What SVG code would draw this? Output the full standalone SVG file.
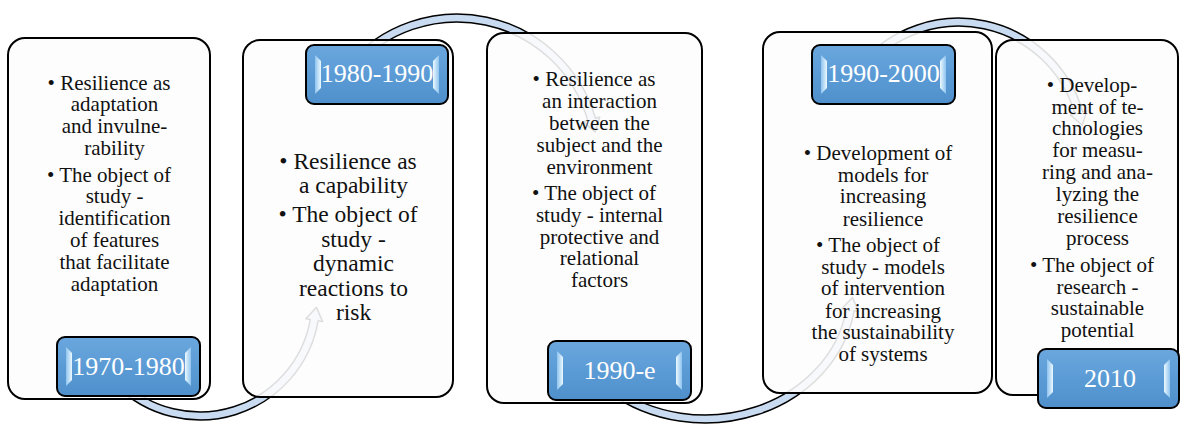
<svg xmlns="http://www.w3.org/2000/svg" width="1181" height="425" viewBox="0 0 1181 425">
<defs>
<linearGradient id="lg" x1="0" y1="0" x2="0" y2="1">
<stop offset="0" stop-color="#6ba7de"/>
<stop offset="0.5" stop-color="#5b9bd5"/>
<stop offset="1" stop-color="#4f90cc"/>
</linearGradient>
<linearGradient id="bevL" x1="0" y1="0" x2="1" y2="0">
<stop offset="0" stop-color="#8fc4ee"/>
<stop offset="1" stop-color="#ecf9ff"/>
</linearGradient>
<linearGradient id="bevR" x1="1" y1="0" x2="0" y2="0">
<stop offset="0" stop-color="#8fc4ee"/>
<stop offset="1" stop-color="#ecf9ff"/>
</linearGradient>
<style>
.box{fill:#fdfdfd;fill-opacity:0.88;stroke:#000;stroke-width:2}
.lbl{fill:url(#lg);stroke:#000;stroke-width:2}
.bl{fill:url(#bevL)}
.br{fill:url(#bevR)}
.lt{font-family:"Liberation Serif",serif;font-size:26px;fill:#fff;text-anchor:middle}
.t{font-family:"Liberation Serif",serif;font-size:21px;fill:#111;text-anchor:middle}
.t2{font-size:23.5px}
.arc{fill:#c8dbf0;stroke:#000;stroke-width:1.5;stroke-linejoin:round}
</style>
</defs>
<rect width="1181" height="425" fill="#fff"/>
<g id="connectors">
<path class="arc" d="M 115.15 384.85 A 120 120 0 0 0 318.18 320.84 L 322.61 321.62 L 316.50 307.34 L 305.87 318.67 L 310.30 319.45 A 112 112 0 0 1 120.80 379.20 Z"/>
<path class="arc" d="M 346.7 65.43 A 144 144 0 0 1 595.43 118.31 L 599.75 117.07 L 595.16 131.92 L 583.41 121.76 L 587.74 120.52 A 136 136 0 0 0 352.82 70.58 Z"/>
<path class="arc" d="M 607.94 391.88 A 151 133 0 0 0 854.14 310.80 L 858.59 311.51 L 852.50 297.39 L 841.79 308.85 L 846.24 309.55 A 143 125 0 0 1 613.08 385.75 Z"/>
<path class="arc" d="M 859.79 64.28 A 129 129 0 0 1 1082.61 111.65 L 1086.93 110.41 L 1082.34 125.25 L 1070.59 115.09 L 1074.92 113.85 A 121 121 0 0 0 865.91 69.42 Z"/>
</g>
<g id="node1">
<rect class="box" x="8" y="38" width="202" height="361" rx="17"/>
<text class="t" x="109" y="89.5">• Resilience as</text>
<text class="t" x="114.5" y="111.3">adaptation</text>
<text class="t" x="114.5" y="133.1">and invulne-</text>
<text class="t" x="114.5" y="154.9">rability</text>
<text class="t" x="109" y="181.5">• The object of</text>
<text class="t" x="114.5" y="203.3">study -</text>
<text class="t" x="114.5" y="225.1">identification</text>
<text class="t" x="114.5" y="246.9">of features</text>
<text class="t" x="114.5" y="268.7">that facilitate</text>
<text class="t" x="114.5" y="290.5">adaptation</text>
<rect class="lbl" x="57" y="337" width="143" height="59" rx="8"/>
<polygon class="bl" points="66,347 72,353 72,380 66,386"/>
<polygon class="br" points="191,347 185,353 185,380 191,386"/>
<text class="lt" x="128.5" y="375">1970-1980</text>
</g>
<g id="node2">
<rect class="box" x="243" y="40" width="210" height="357" rx="17"/>
<text class="t t2" x="348" y="169">• Resilience as</text>
<text class="t t2" x="353.5" y="193">a capability</text>
<text class="t t2" x="348" y="222">• The object of</text>
<text class="t t2" x="353.5" y="246.5">study -</text>
<text class="t t2" x="353.5" y="271">dynamic</text>
<text class="t t2" x="353.5" y="295.5">reactions to</text>
<text class="t t2" x="353.5" y="320">risk</text>
<rect class="lbl" x="306" y="45" width="142" height="59" rx="8"/>
<polygon class="bl" points="315,55 321,61 321,88 315,94"/>
<polygon class="br" points="439,55 433,61 433,88 439,94"/>
<text class="lt" x="377" y="82">1980-1990</text>
</g>
<g id="node3">
<rect class="box" x="487" y="33" width="215" height="370" rx="17"/>
<text class="t" x="594" y="86">• Resilience as</text>
<text class="t" x="599.5" y="108">an interaction</text>
<text class="t" x="599.5" y="130">between the</text>
<text class="t" x="599.5" y="151.7">subject and the</text>
<text class="t" x="599.5" y="173.5">environment</text>
<text class="t" x="594" y="200">• The object of</text>
<text class="t" x="599.5" y="221.7">study - internal</text>
<text class="t" x="599.5" y="243.5">protective and</text>
<text class="t" x="599.5" y="265.3">relational</text>
<text class="t" x="599.5" y="287">factors</text>
<rect class="lbl" x="548" y="341" width="143" height="59" rx="8"/>
<polygon class="bl" points="557,351 563,357 563,384 557,390"/>
<polygon class="br" points="682,351 676,357 676,384 682,390"/>
<text class="lt" x="619.5" y="379">1990-e</text>
</g>
<g id="node4">
<rect class="box" x="763" y="32" width="229" height="361" rx="17"/>
<text class="t" x="878" y="159.5">• Development of</text>
<text class="t" x="883" y="181.5">models for</text>
<text class="t" x="883" y="203.3">increasing</text>
<text class="t" x="883" y="225.5">resilience</text>
<text class="t" x="878" y="251.7">• The object of</text>
<text class="t" x="883" y="273.5">study - models</text>
<text class="t" x="883" y="295.3">of intervention</text>
<text class="t" x="883" y="317.5">for increasing</text>
<text class="t" x="883" y="339.3">the sustainability</text>
<text class="t" x="883" y="361.3">of systems</text>
<rect class="lbl" x="812" y="45" width="143" height="59" rx="8"/>
<polygon class="bl" points="821,55 827,61 827,88 821,94"/>
<polygon class="br" points="946,55 940,61 940,88 946,94"/>
<text class="lt" x="883.5" y="82">1990-2000</text>
</g>
<g id="node5">
<rect class="box" x="996" y="40" width="182" height="355" rx="17"/>
<text class="t" x="1092" y="91.7">• Develop-</text>
<text class="t" x="1097.5" y="113.5">ment of te-</text>
<text class="t" x="1097.5" y="135.3">chnologies</text>
<text class="t" x="1097.5" y="157.2">for measu-</text>
<text class="t" x="1097.5" y="179">ring and ana-</text>
<text class="t" x="1097.5" y="201">lyzing the</text>
<text class="t" x="1097.5" y="223">resilience</text>
<text class="t" x="1097.5" y="245">process</text>
<text class="t" x="1092" y="271.7">• The object of</text>
<text class="t" x="1097.5" y="293.5">research -</text>
<text class="t" x="1097.5" y="315.3">sustainable</text>
<text class="t" x="1097.5" y="337">potential</text>
<rect class="lbl" x="1038" y="349" width="141" height="59" rx="8"/>
<polygon class="bl" points="1047,359 1053,365 1053,392 1047,398"/>
<polygon class="br" points="1170,359 1164,365 1164,392 1170,398"/>
<text class="lt" x="1110" y="387">2010</text>
</g>
</svg>
